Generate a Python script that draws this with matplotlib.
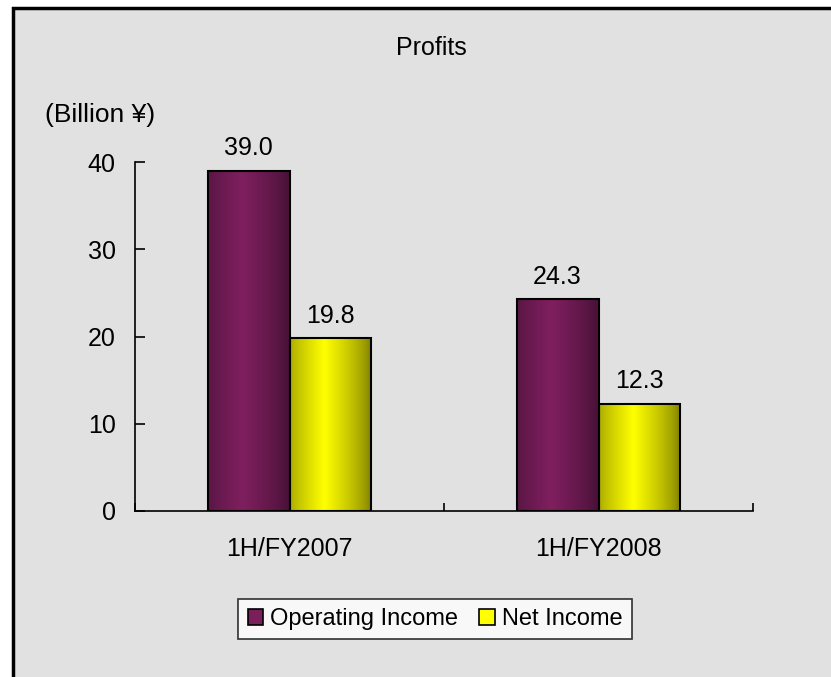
"""
Profits bar chart (Operating Income vs Net Income, billion yen).
"""

import numpy as np
import matplotlib
matplotlib.use("Agg")
import matplotlib.pyplot as plt
from matplotlib.colors import LinearSegmentedColormap
from matplotlib.patches import Patch, Rectangle

plt.rcParams['font.family'] = ['Liberation Sans', 'DejaVu Sans']

# data
periods = ['1H/FY2007', '1H/FY2008']
series_names = ['Operating Income', 'Net Income']
operating_income = [39.0, 24.3]
net_income = [19.8, 12.3]
y_ticks = [0, 10, 20, 30, 40]

# styling
BG = '#e1e1e1'
dark_light = [('#4a1238', '#7f1f5f'), ('#8a8a00', '#ffff00')]
legend_colors = ['#7a1f5c', '#ffff00']
bar_w = 0.265

fig = plt.figure(figsize=(8.31, 6.77), dpi=100)
fig.patch.set_facecolor('white')
# outer chart frame (cut off on the right and bottom)
fig.patches.append(Rectangle((13.5 / 831, -0.05), 1.1, 1 - 8 / 677 + 0.05,
                             transform=fig.transFigure, facecolor=BG,
                             edgecolor='black', linewidth=2.5, zorder=-5))

ax = fig.add_axes([135 / 831, 1 - 511 / 677, 618 / 831, 349 / 677])
ax.patch.set_alpha(0)

x = np.arange(len(periods))
t = np.linspace(0, 1, 64)
profile = np.clip(1 - np.abs(t - 0.42) / 0.55, 0, 1) ** 0.8

for i, (vals, (dk, lt)) in enumerate(zip([operating_income, net_income], dark_light)):
    cmap = LinearSegmentedColormap.from_list(f'g{i}', [dk, lt])
    offs = (i - 0.5) * bar_w
    bars = ax.bar(x + offs, vals, bar_w, facecolor='none', edgecolor='black',
                  linewidth=1.5, zorder=3)
    for b, v in zip(bars, vals):
        x0 = b.get_x()
        im = ax.imshow(profile[np.newaxis, :], cmap=cmap, aspect='auto',
                       extent=(x0, x0 + bar_w, 0, v), vmin=0, vmax=1, zorder=2)
        im.set_clip_path(b)
        ax.annotate(f'{v:.1f}', (x0 + bar_w / 2, v), xytext=(0, 11),
                    textcoords='offset points', ha='center', va='baseline',
                    fontsize=18)

ax.set_xlim(-0.5, len(periods) - 0.5)
ax.set_ylim(0, 40)
ax.set_yticks(y_ticks)
ax.set_xticks(x)
ax.set_xticklabels(periods)
ax.set_xticks(np.arange(len(periods) + 1) - 0.5, minor=True)
ax.tick_params(axis='y', direction='in', length=7, width=1.2, pad=14, labelsize=18)
ax.tick_params(axis='x', which='major', length=0, pad=19, labelsize=18)
ax.tick_params(axis='x', which='minor', direction='in', length=6, width=1.2)
for s in ['top', 'right']:
    ax.spines[s].set_visible(False)
for s in ['left', 'bottom']:
    ax.spines[s].set_linewidth(1.2)

fig.text(431 / 831, 1 - 55 / 677, 'Profits', ha='center', va='baseline', fontsize=18)
fig.text(45 / 831, 1 - 122 / 677, '(Billion ¥)', ha='left', va='baseline', fontsize=19)

handles = [Patch(facecolor=c, edgecolor='black', linewidth=1.2) for c in legend_colors]
leg = fig.legend(handles, series_names, loc='center', bbox_to_anchor=(435 / 831, 1 - 619 / 677),
                 ncol=2, frameon=True, fancybox=False, fontsize=17, handlelength=0.65,
                 handleheight=0.65, handletextpad=0.3, columnspacing=0.9, borderpad=0.4,
                 borderaxespad=0)
leg.get_frame().set_edgecolor('black')
leg.get_frame().set_linewidth(1.2)

fig.savefig('out.png', dpi=100)
